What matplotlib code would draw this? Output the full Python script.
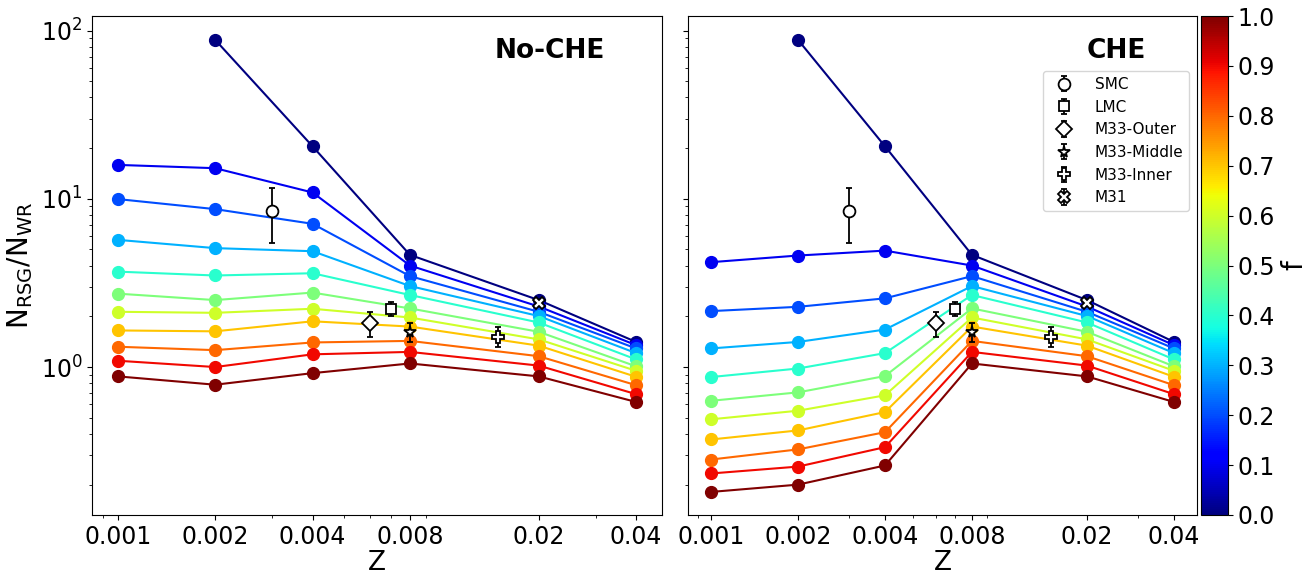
import numpy as np
import matplotlib
matplotlib.use('Agg')
import matplotlib.pyplot as plt
from matplotlib.ticker import NullFormatter

# metallicity grid
Z = [0.001, 0.002, 0.004, 0.008, 0.02, 0.04]
Z_ticklabels = ['0.001', '0.002', '0.004', '0.008', '0.02', '0.04']

# fraction f of each model line
f_values = [0.0, 0.1, 0.2, 0.3, 0.4, 0.5, 0.6, 0.7, 0.8, 0.9, 1.0]

# N_RSG/N_WR without chemically homogeneous evolution
ratio_noche = [
    [np.nan, 88.0, 20.5, 4.64, 2.50, 1.41],
    [15.9, 15.2, 10.9, 4.01, 2.29, 1.35],
    [9.96, 8.68, 7.10, 3.47, 2.13, 1.29],
    [5.70, 5.09, 4.88, 3.03, 2.01, 1.21],
    [3.69, 3.50, 3.61, 2.68, 1.84, 1.11],
    [2.73, 2.50, 2.77, 2.23, 1.62, 1.01],
    [2.13, 2.10, 2.22, 1.97, 1.46, 0.95],
    [1.65, 1.63, 1.87, 1.74, 1.34, 0.875],
    [1.32, 1.26, 1.40, 1.43, 1.16, 0.78],
    [1.09, 1.00, 1.19, 1.23, 1.02, 0.69],
    [0.88, 0.785, 0.92, 1.05, 0.88, 0.62],
]

# N_RSG/N_WR with chemically homogeneous evolution
ratio_che = [
    [np.nan, 88.0, 20.5, 4.64, 2.50, 1.41],
    [4.20, 4.60, 4.92, 4.01, 2.29, 1.35],
    [2.15, 2.28, 2.56, 3.47, 2.13, 1.29],
    [1.29, 1.41, 1.67, 3.03, 2.01, 1.21],
    [0.872, 0.98, 1.21, 2.68, 1.84, 1.11],
    [0.63, 0.707, 0.884, 2.23, 1.62, 1.01],
    [0.489, 0.55, 0.679, 1.97, 1.46, 0.95],
    [0.371, 0.42, 0.54, 1.74, 1.34, 0.875],
    [0.282, 0.324, 0.41, 1.43, 1.16, 0.78],
    [0.233, 0.256, 0.334, 1.23, 1.02, 0.69],
    [0.181, 0.200, 0.26, 1.05, 0.88, 0.62],
]

# observed galaxies
obs_labels = ['SMC', 'LMC', 'M33-Outer', 'M33-Middle', 'M33-Inner', 'M31']
obs_z = [0.003, 0.007, 0.006, 0.008, 0.015, 0.02]
obs_ratio = [8.5, 2.21, 1.82, 1.62, 1.51, 2.41]
obs_err_lo = [3.05, 0.19, 0.31, 0.22, 0.20, 0.08]
obs_err_hi = [3.10, 0.22, 0.30, 0.20, 0.21, 0.08]
obs_markers = ['o', 's', 'D', '*', 'P', 'X']

cmap = plt.get_cmap('jet')

fig = plt.figure(figsize=(13.16, 5.78), dpi=100)
ax1 = fig.add_axes([0.0699, 0.109, 0.4331, 0.8633])
ax2 = fig.add_axes([0.5228, 0.109, 0.3868, 0.8633], sharey=ax1)
cax = fig.add_axes([0.9126, 0.109, 0.0205, 0.8633])


def draw_panel(ax, ratios, title):
    for f, r in zip(f_values, ratios):
        ax.plot(Z, r, '-o', color=cmap(f), lw=1.5, ms=8.5, zorder=2)
    for lab, z, r, lo, hi, m in zip(obs_labels, obs_z, obs_ratio,
                                     obs_err_lo, obs_err_hi, obs_markers):
        ms = 7 if m == 's' else 8.5
        ax.errorbar(z, r, yerr=[[lo], [hi]], fmt=m, mfc='white', mec='black',
                    mew=1.3, ms=ms, ecolor='black', elinewidth=1.3, capsize=2,
                    label=lab, zorder=5)
    ax.set_xscale('log')
    ax.set_yscale('log')
    ax.set_xticks(Z)
    ax.set_xticklabels(Z_ticklabels)
    ax.xaxis.set_minor_formatter(NullFormatter())
    ax.set_xlim(0.000832, 0.0481)
    ax.set_xlabel('Z', fontsize=19, labelpad=1)
    ax.tick_params(axis='both', which='major', labelsize=17)
    ax.text(0.9, 0.93, title, transform=ax.transAxes, ha='right', va='center',
            fontsize=19, fontweight='bold')


draw_panel(ax1, ratio_noche, 'No-CHE')
draw_panel(ax2, ratio_che, 'CHE')

ax1.set_ylim(0.132, 122)
ax1.set_ylabel(r'N$_{\rm RSG}$/N$_{\rm WR}$', fontsize=20)
plt.setp(ax2.get_yticklabels(), visible=False)

ax2.legend(loc='upper right', bbox_to_anchor=(1.0, 0.905), fontsize=11,
           handletextpad=1.0)

sm = matplotlib.cm.ScalarMappable(cmap=cmap, norm=plt.Normalize(0, 1))
cb = fig.colorbar(sm, cax=cax, ticks=np.arange(0, 1.01, 0.1))
cb.ax.tick_params(labelsize=17)
cb.set_label('f', fontsize=20)

fig.savefig('out.png', dpi=100)
